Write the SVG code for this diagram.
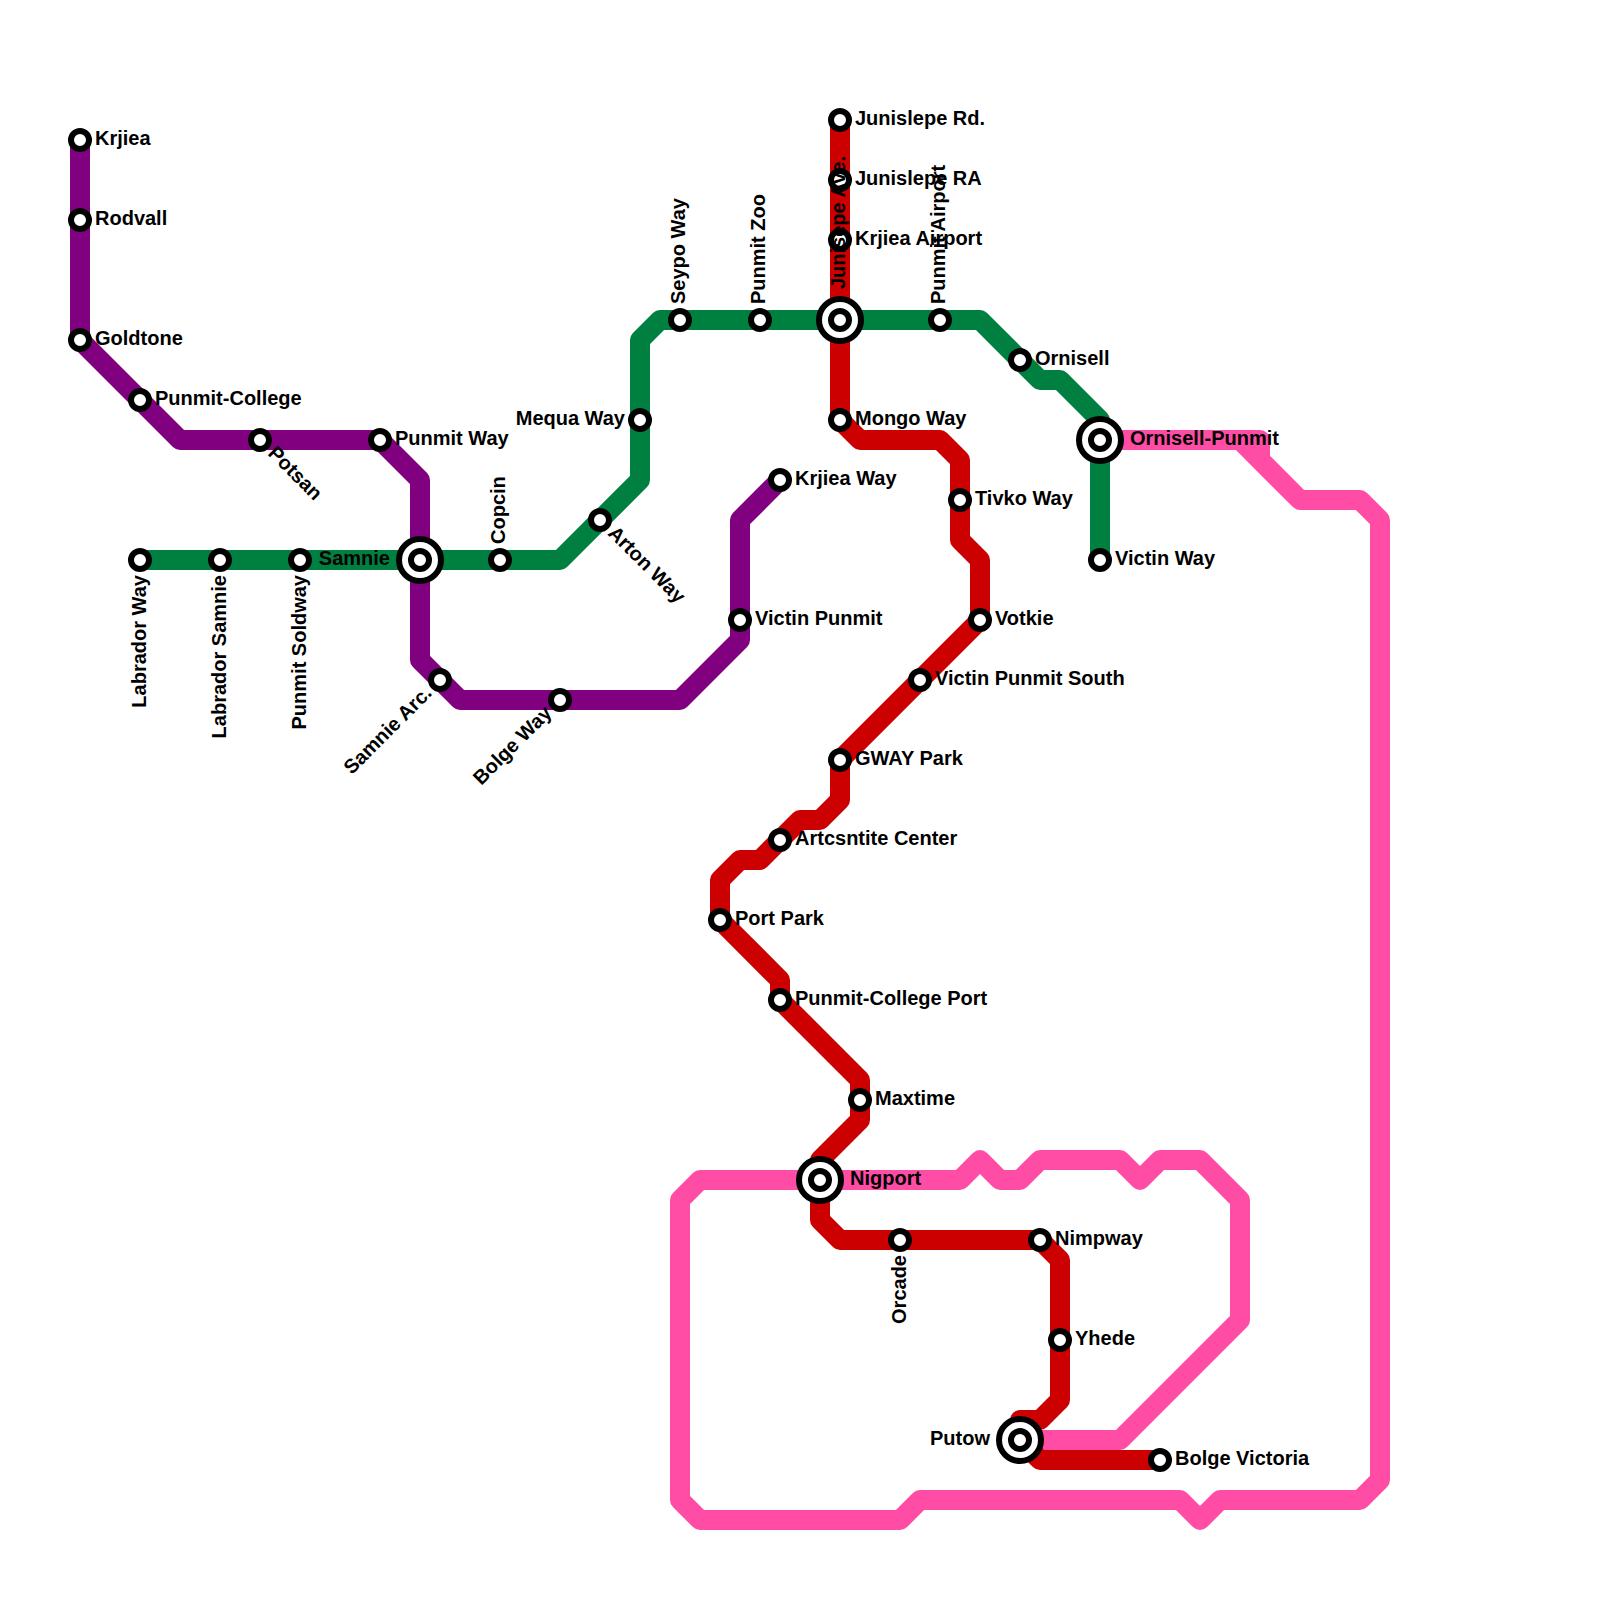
<svg xmlns="http://www.w3.org/2000/svg" width="1600" height="1600" viewBox="0 0 1600 1600">
<style>
.l{fill:none;stroke-width:20;stroke-linejoin:round;stroke-linecap:butt}
.s{fill:#fff;stroke:#000;stroke-width:6}
.b{fill:#fff;stroke:#000;stroke-width:6}
text{font-family:"Liberation Sans",Arial,sans-serif;font-weight:bold;font-size:20px;fill:#000}
.e{text-anchor:end}
</style>
<defs>
<g id="st"><circle class="s" r="9"/></g>
<g id="ix"><circle class="b" r="21"/><circle class="s" r="9"/></g>
</defs>
<rect width="1600" height="1600" fill="#fff"/>
<g id="connectors">
<path class="l" stroke="#ff4da6" d="M1100 440H1260V460M1240 440L1300 500H1360L1380 520V1480L1360 1500H1220L1200 1520L1180 1500H920L900 1520H700L680 1500V1200L700 1180H960L980 1160L1000 1180H1020L1040 1160H1120L1140 1180L1160 1160H1200L1240 1200V1320L1120 1440H1020"/>
<path class="l" stroke="#cc0000" d="M840 120V420L860 440H940L960 460V540L980 560V620L840 760V800L820 820H800L760 860H740L720 880V920L780 980V1000L860 1080V1120L820 1160V1220L840 1240H1040L1060 1260V1400L1040 1420H1020V1440L1040 1460H1160"/>
<path class="l" stroke="#800080" d="M80 140V340L180 440H380L420 480V660L460 700H680L740 640V520L780 480"/>
<path class="l" stroke="#008040" d="M140 560H560L640 480V340L660 320H980L1040 380H1060L1100 420V560"/>
</g>
<g id="n-krjiea"><use href="#st" x="80" y="140"/><text x="95" y="145">Krjiea</text></g>
<g id="n-rodvall"><use href="#st" x="80" y="220"/><text x="95" y="225">Rodvall</text></g>
<g id="n-goldtone"><use href="#st" x="80" y="340"/><text x="95" y="345">Goldtone</text></g>
<g id="n-punmit-college"><use href="#st" x="140" y="400"/><text x="155" y="405">Punmit-College</text></g>
<g id="n-potsan"><use href="#st" x="260" y="440"/><text transform="translate(260 440) rotate(45)" x="15" y="5">Potsan</text></g>
<g id="n-punmit-way"><use href="#st" x="380" y="440"/><text x="395" y="445">Punmit Way</text></g>
<g id="n-labrador-way"><use href="#st" x="140" y="560"/><text class="e" transform="translate(140 560) rotate(-90)" x="-15" y="5.5">Labrador Way</text></g>
<g id="n-labrador-samnie"><use href="#st" x="220" y="560"/><text class="e" transform="translate(220 560) rotate(-90)" x="-15" y="5.5">Labrador Samnie</text></g>
<g id="n-punmit-soldway"><use href="#st" x="300" y="560"/><text class="e" transform="translate(300 560) rotate(-90)" x="-15" y="5.5">Punmit Soldway</text></g>
<g id="n-samnie"><use href="#ix" x="420" y="560"/><text class="e" x="390" y="565">Samnie</text></g>
<g id="n-copcin"><use href="#st" x="500" y="560"/><text transform="translate(500 560) rotate(-90)" x="16" y="5">Copcin</text></g>
<g id="n-samnie-arc"><use href="#st" x="440" y="680"/><text class="e" transform="translate(440 680) rotate(-45)" x="-15" y="5">Samnie Arc.</text></g>
<g id="n-bolge-way"><use href="#st" x="560" y="700"/><text class="e" transform="translate(560 700) rotate(-45)" x="-15" y="5">Bolge Way</text></g>
<g id="n-arton-way"><use href="#st" x="600" y="520"/><text transform="translate(600 520) rotate(45)" x="15" y="5">Arton Way</text></g>
<g id="n-mequa-way"><use href="#st" x="640" y="420"/><text class="e" x="625" y="425">Mequa Way</text></g>
<g id="n-seypo-way"><use href="#st" x="680" y="320"/><text transform="translate(680 320) rotate(-90)" x="16" y="5">Seypo Way</text></g>
<g id="n-punmit-zoo"><use href="#st" x="760" y="320"/><text transform="translate(760 320) rotate(-90)" x="16" y="5">Punmit Zoo</text></g>
<g id="n-junislepe-rd"><use href="#st" x="840" y="120"/><text x="855" y="125">Junislepe Rd.</text></g>
<g id="n-junislepe-ra"><use href="#st" x="840" y="180"/><text x="855" y="185">Junislepe RA</text></g>
<g id="n-krjiea-airport"><use href="#st" x="840" y="240"/><text x="855" y="245">Krjiea Airport</text></g>
<g id="n-junisepe-ave"><use href="#ix" x="840" y="320"/><text transform="translate(840 320) rotate(-90)" x="31" y="5">Junisepe Ave.</text></g>
<g id="n-punmit-airport"><use href="#st" x="940" y="320"/><text transform="translate(940 320) rotate(-90)" x="16" y="5">Punmit Airport</text></g>
<g id="n-ornisell"><use href="#st" x="1020" y="360"/><text x="1035" y="365">Ornisell</text></g>
<g id="n-ornisell-punmit"><use href="#ix" x="1100" y="440"/><text x="1130" y="445">Ornisell-Punmit</text></g>
<g id="n-victin-way"><use href="#st" x="1100" y="560"/><text x="1115" y="565">Victin Way</text></g>
<g id="n-mongo-way"><use href="#st" x="840" y="420"/><text x="855" y="425">Mongo Way</text></g>
<g id="n-krjiea-way"><use href="#st" x="780" y="480"/><text x="795" y="485">Krjiea Way</text></g>
<g id="n-tivko-way"><use href="#st" x="960" y="500"/><text x="975" y="505">Tivko Way</text></g>
<g id="n-victin-punmit"><use href="#st" x="740" y="620"/><text x="755" y="625">Victin Punmit</text></g>
<g id="n-votkie"><use href="#st" x="980" y="620"/><text x="995" y="625">Votkie</text></g>
<g id="n-victin-punmit-south"><use href="#st" x="920" y="680"/><text x="935" y="685">Victin Punmit South</text></g>
<g id="n-gway-park"><use href="#st" x="840" y="760"/><text x="855" y="765">GWAY Park</text></g>
<g id="n-artcsntite-center"><use href="#st" x="780" y="840"/><text x="795" y="845">Artcsntite Center</text></g>
<g id="n-port-park"><use href="#st" x="720" y="920"/><text x="735" y="925">Port Park</text></g>
<g id="n-punmit-college-port"><use href="#st" x="780" y="1000"/><text x="795" y="1005">Punmit-College Port</text></g>
<g id="n-maxtime"><use href="#st" x="860" y="1100"/><text x="875" y="1105">Maxtime</text></g>
<g id="n-nigport"><use href="#ix" x="820" y="1180"/><text x="850" y="1185">Nigport</text></g>
<g id="n-orcade"><use href="#st" x="900" y="1240"/><text class="e" transform="translate(900 1240) rotate(-90)" x="-15" y="5.5">Orcade</text></g>
<g id="n-nimpway"><use href="#st" x="1040" y="1240"/><text x="1055" y="1245">Nimpway</text></g>
<g id="n-yhede"><use href="#st" x="1060" y="1340"/><text x="1075" y="1345">Yhede</text></g>
<g id="n-putow"><use href="#ix" x="1020" y="1440"/><text class="e" x="990" y="1445">Putow</text></g>
<g id="n-bolge-victoria"><use href="#st" x="1160" y="1460"/><text x="1175" y="1465">Bolge Victoria</text></g>
</svg>
